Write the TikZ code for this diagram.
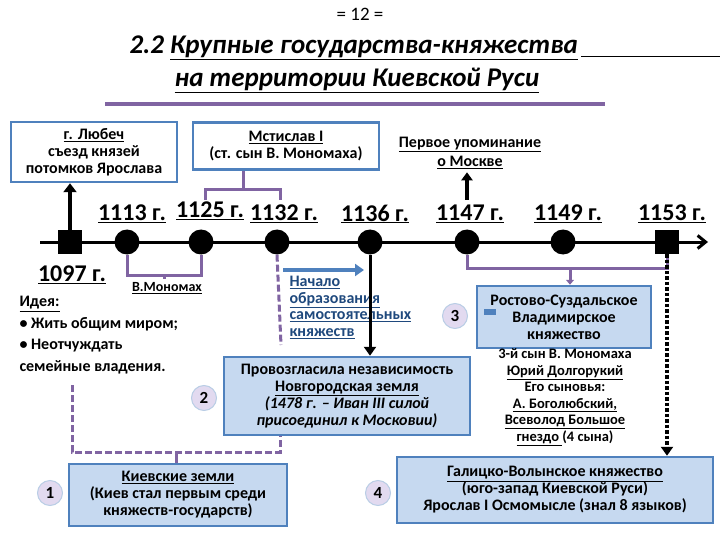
\documentclass[tikz,border=0pt]{standalone}
\usepackage{fontspec}
\setmainfont{Carlito}
\usetikzlibrary{arrows.meta}
\definecolor{bfill}{RGB}{198,217,240}
\definecolor{bdraw}{RGB}{79,129,189}
\definecolor{purp}{RGB}{128,100,162}
\definecolor{lav}{RGB}{226,218,240}
\definecolor{ublue}{RGB}{31,73,125}
\newcommand{\ul}[1]{\underline{#1}}
\tikzset{
 bx/.style={draw=bdraw,fill=bfill,line width=2.5pt,font=\bfseries\fontsize{16}{17}\selectfont,align=center,inner sep=1pt},
 wbx/.style={draw=bdraw,fill=white,line width=2.5pt,font=\bfseries\fontsize{16}{17}\selectfont,align=center,inner sep=1pt},
 num/.style={circle,draw=bdraw!40,fill=lav,line width=1pt,minimum size=25pt,inner sep=0pt,font=\bfseries\fontsize{17}{17}\selectfont},
 yr/.style={font=\bfseries\fontsize{24}{24}\selectfont},
 dot/.style={circle,fill=black,minimum size=25pt,inner sep=0pt},
 sq/.style={fill=black,minimum size=24pt,inner sep=0pt},
 txt/.style={font=\bfseries\fontsize{16}{19}\selectfont,align=center},
 br/.style={draw=purp,line width=3pt},
 dbr/.style={draw=purp,line width=3pt,dash pattern=on 7pt off 3pt},
}
\begin{document}
\begin{tikzpicture}[x=1pt,y=-1pt]
\useasboundingbox (0,0) rectangle (720,540);
% title
\node (pg) at (360,14) {\fontsize{19}{19}\selectfont = 12 =};
\node[anchor=west,font=\bfseries\itshape\fontsize{27}{27}\selectfont] (t1) at (126,48) {2.2 \ul{Крупные государства-княжества}};
\draw[line width=1.2pt] (t1.south east) ++(0,-7) coordinate (u1) -- (u1 -| 720,0);
\node[font=\bfseries\itshape\fontsize{27}{27}\selectfont] (t2) at (357,80) {\ul{на территории Киевской Руси}};
\draw[purp,line width=3.5pt] (105,104) coordinate (r1) -- (605,104) coordinate (r2);
% timeline
\coordinate (tl0) at (40,242);
\coordinate (tl1) at (708,242);
\draw[line width=3pt,-{Straight Barb[length=8pt,width=13pt]}] (tl0) -- (tl1);
\node[sq] (s1097) at (70,242) {};
\node[dot] (c1113) at (127,242) {};
\node[dot] (c1125) at (201,242) {};
\node[dot] (c1132) at (277,242) {};
\node[dot] (c1136) at (370,242) {};
\node[dot] (c1147) at (467,242) {};
\node[dot] (c1149) at (563,242) {};
\node[sq] (s1153) at (667,242) {};
% years
\node[yr] (y1113) at (132,214) {\ul{1113 г.}};
\node[yr] (y1125) at (210,211) {\ul{1125 г.}};
\node[yr] (y1132) at (284,214) {\ul{1132 г.}};
\node[yr] (y1136) at (375,214) {\ul{1136 г.}};
\node[yr] (y1147) at (470,214) {\ul{1147 г.}};
\node[yr] (y1149) at (568,214) {\ul{1149 г.}};
\node[yr] (y1153) at (672,214) {\ul{1153 г.}};
\node[yr] (y1097) at (72,275) {\ul{1097 г.}};
% top boxes
\node[wbx,minimum width=166pt,minimum height=60pt] (lub) at (94,152) {\ul{г. Любеч}\\съезд князей\\потомков Ярослава};
\node[wbx,minimum width=186pt,minimum height=47pt] (mst) at (286,146) {\ul{Мстислав I}\\(ст. сын В. Мономаха)};
\node[txt] (msk) at (470,153) {\ul{Первое упоминание}\\\ul{о Москве}};
\draw[line width=3.5pt,-{Triangle[length=9pt,width=13pt]}] (s1097.north) -- (lub.south -| s1097);
\draw[line width=3.5pt,-{Triangle[length=8pt,width=11pt]}] (467,200) coordinate (m0) -- (msk.south -| m0);
% brackets
\draw[br] (205,200) -- (205,190) -- (280,190) -- (280,200);
\draw[br] (243,190) -- (mst.south -| 243,0);
\draw[br] (c1113.south) -- (127,275) -- (201,275) -- (c1125.south);
\node[font=\bfseries\fontsize{14}{14}\selectfont] (mon) at (167,288) {\ul{В.Мономах}};
\draw[br] (164,275) -- (mon.north -| 164,0);
% middle
\node[font=\bfseries\fontsize{16}{16.5}\selectfont,text=ublue,align=left,anchor=north west] (nach) at (286,273) {\ul{Начало}\\\ul{образования}\\\ul{самостоятельных}\\\ul{княжеств}};
\draw[dbr] (c1132.south) -- (281,345) coordinate (dend);
\draw[draw=bdraw,line width=3.5pt,-{Triangle[length=9pt,width=12pt]}] (283,270) -- (364,270) coordinate (barr);
\node[bx,minimum width=246pt,minimum height=78pt] (nov) at (347,396) {Провозгласила независимость\\\ul{Новгородская земля}\\\textit{(1478 г. – Иван III силой}\\\textit{присоединил к Московии)}};
\draw[line width=3pt,-{Triangle[length=9pt,width=12pt]}] (c1136.south) -- (nov.north -| c1136);
\node[num] (n2) at (204,398) {2};
\node[num] (n3) at (455,316) {3};
% ideas
\node[txt,align=left,anchor=north west,font=\bfseries\fontsize{16}{21.5}\selectfont] (idea) at (16,293) {\ul{Идея:}\\• Жить общим миром;\\• Неотчуждать\\семейные владения.};
% Rostov
\node[bx,minimum width=174pt,minimum height=62pt] (ros) at (564,317) {Ростово-Суздальское\\Владимирское\\княжество};
\fill[bdraw] (484,309) rectangle (496,315);
\draw[br] (c1147.south) -- (467,268) -- (667,268) -- (s1153.south);
\draw[br,-{Triangle[length=5pt,width=8pt]}] (570,268) -- (ros.north -| 570,0);
\node[font=\bfseries\fontsize{14.5}{16.5}\selectfont,align=center] (sons) at (565,397) {3-й сын В. Мономаха\\\ul{Юрий Долгорукий}\\Его сыновья:\\\ul{А. Боголюбский,}\\\ul{Всеволод Большое}\\\ul{гнездо }(4 сына)};
% Galician
\node[bx,minimum width=316pt,minimum height=66pt] (gal) at (555,490) {\ul{Галицко-Волынское княжество}\\(юго-запад Киевской Руси)\\Ярослав I Осмомысле (знал 8 языков)};
\draw[line width=3.5pt,dotted,-{Triangle[length=9pt,width=12pt]}] (s1153.south) -- (gal.north -| s1153);
\node[num] (n4) at (378,493) {4};
% Kiev
\node[bx,minimum width=218pt,minimum height=62pt] (kiev) at (178,495) {\ul{Киевские земли}\\(Киев стал первым среди\\княжеств-государств)};
\node[num] (n1) at (50,493) {1};
\draw[dbr] (72,385) -- (72,452) -- (280,452) -- (nov.south -| 280,0);
\draw[br] (176,452) -- (kiev.north -| 176,0);
\end{tikzpicture}
\end{document}
